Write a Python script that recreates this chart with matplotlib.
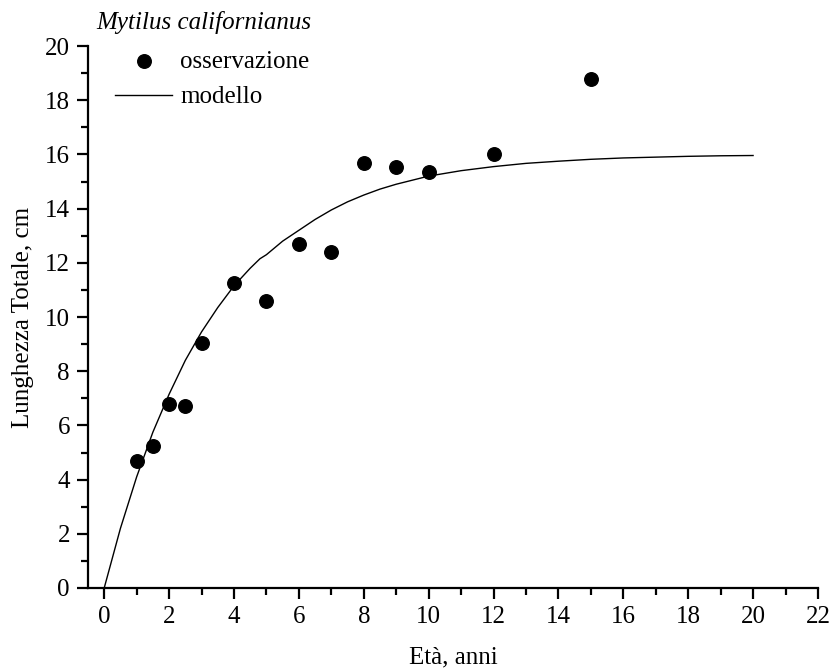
import matplotlib
matplotlib.use("Agg")
import matplotlib.pyplot as plt
from matplotlib.ticker import MultipleLocator

plt.rcParams['font.family'] = ['Liberation Serif', 'DejaVu Serif']

# observed lengths by age
eta = [1, 1.5, 2, 2.5, 3, 4, 5, 6, 7, 8, 9, 10, 12, 15]
lunghezza = [4.7, 5.25, 6.8, 6.7, 9.05, 11.25, 10.6, 12.7, 12.4, 15.7, 15.55, 15.35, 16.0, 18.8]

# fitted growth curve
eta_mod = [0, 0.5, 1, 1.5, 2, 2.5, 3, 3.5, 4, 4.5, 4.8, 5, 5.5, 6, 6.5, 7, 7.5, 8, 8.5,
           9, 9.5, 10, 11, 12, 13, 14, 15, 16, 17, 18, 19, 20]
lung_mod = [0, 2.2, 4.1, 5.75, 7.15, 8.4, 9.45, 10.35, 11.15, 11.8, 12.15, 12.3, 12.8,
            13.2, 13.6, 13.95, 14.25, 14.5, 14.72, 14.9, 15.05, 15.2, 15.4, 15.55, 15.67,
            15.75, 15.82, 15.87, 15.9, 15.93, 15.95, 15.96]

fig = plt.figure(figsize=(8.3, 6.72), dpi=100)
ax = fig.add_axes([0.106, 0.125, 0.8795, 0.8065])

ax.plot(eta_mod, lung_mod, color='black', lw=1.0, label='modello', zorder=2)
ax.scatter(eta, lunghezza, s=95, color='black', label='osservazione', zorder=3)

ax.set_xlim(-0.5, 22)
ax.set_ylim(0, 20)
ax.xaxis.set_major_locator(MultipleLocator(2))
ax.xaxis.set_minor_locator(MultipleLocator(1))
ax.yaxis.set_major_locator(MultipleLocator(2))
ax.yaxis.set_minor_locator(MultipleLocator(1))

for s in ['top', 'right']:
    ax.spines[s].set_visible(False)
for s in ['left', 'bottom']:
    ax.spines[s].set_linewidth(1.6)
ax.tick_params(which='major', direction='out', length=8, width=1.6, labelsize=18, pad=5)
ax.tick_params(which='minor', direction='out', length=5, width=1.6)

ax.set_xlabel('Età, anni', fontsize=18, labelpad=13)
ax.set_ylabel('Lunghezza Totale, cm', fontsize=18, labelpad=8)
ax.text(0.012, 1.032, 'Mytilus californianus', transform=ax.transAxes, fontsize=18,
        style='italic', ha='left', va='baseline')

handles, labels = ax.get_legend_handles_labels()
ax.legend(handles[::-1], labels[::-1], loc='upper left', frameon=False, fontsize=18,
          bbox_to_anchor=(0.037, 0.992), borderaxespad=0, borderpad=0,
          handlelength=2.3, handletextpad=0.3, labelspacing=0.52)

fig.savefig('out.png', dpi=100)
